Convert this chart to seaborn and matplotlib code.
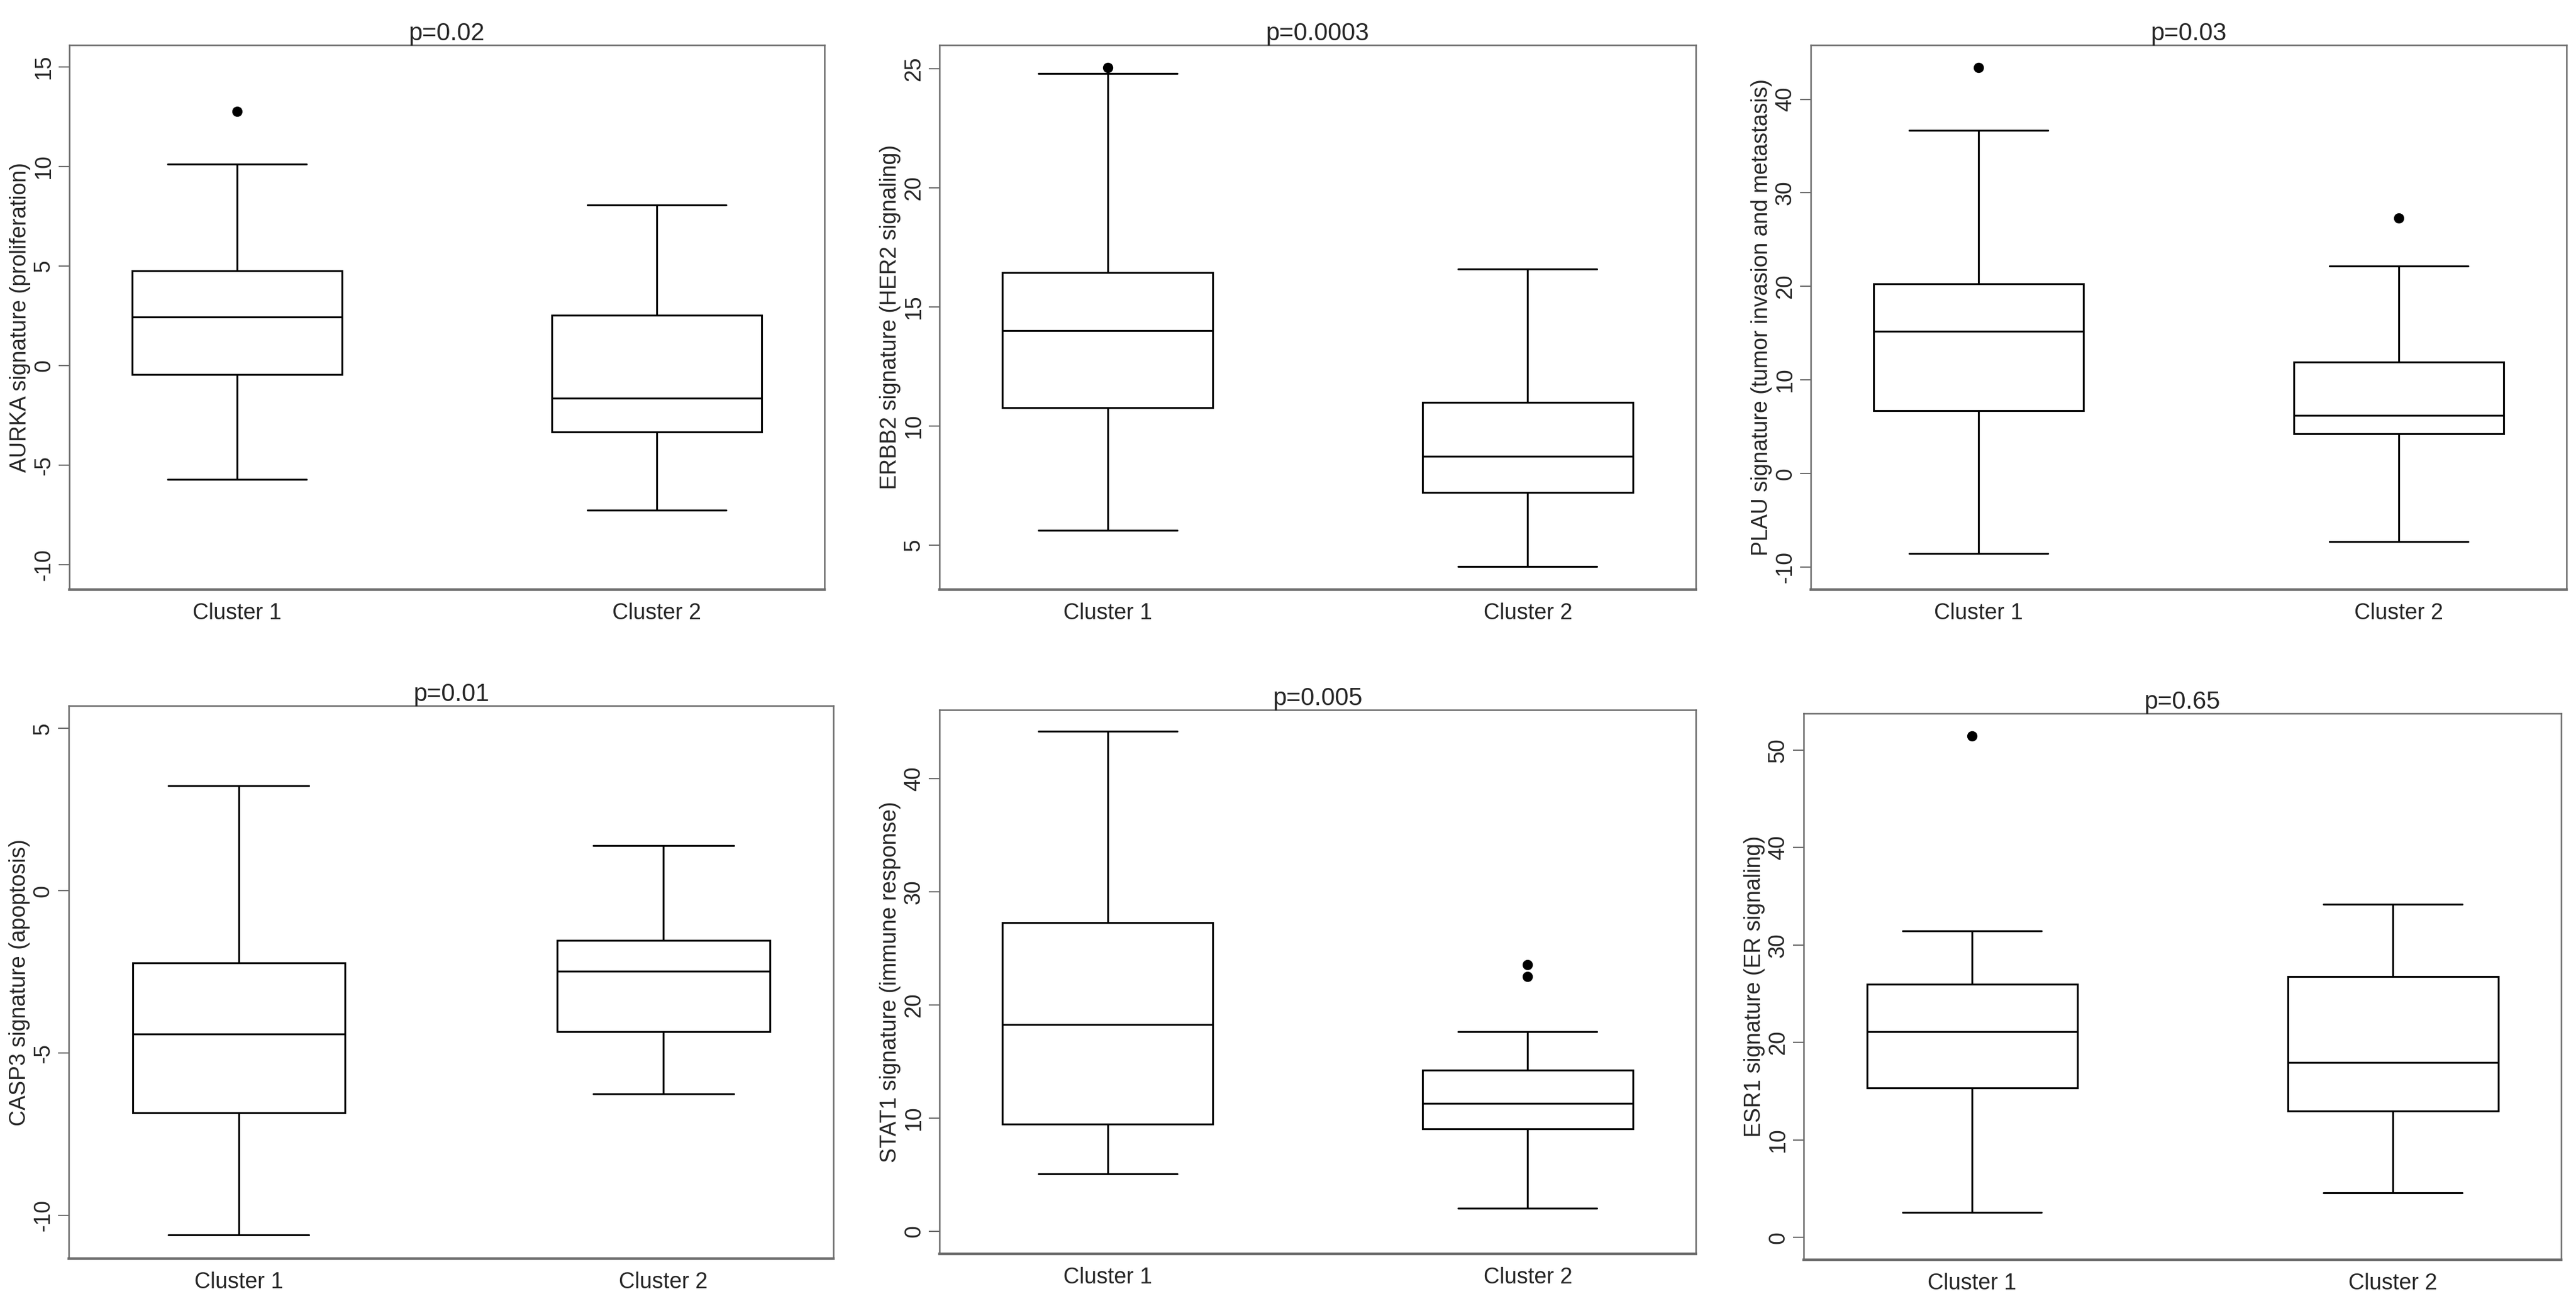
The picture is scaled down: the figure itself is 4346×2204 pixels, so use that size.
import pandas as pd
import matplotlib
matplotlib.use("Agg")
import matplotlib.pyplot as plt
import seaborn as sns

clusters = ["Cluster 1", "Cluster 2"]

titles = ["p=0.02", "p=0.0003", "p=0.03", "p=0.01", "p=0.005", "p=0.65"]
ylabels = [
    "AURKA signature (proliferation)",
    "ERBB2 signature (HER2 signaling)",
    "PLAU signature (tumor invasion and metastasis)",
    "CASP3 signature (apoptosis)",
    "STAT1 signature (immune response)",
    "ESR1 signature (ER signaling)",
]

# box summaries: lower whisker, Q1, median, Q3, upper whisker
aurka_c1 = [-5.7, -0.44, 2.44, 4.76, 10.13]
aurka_c2 = [-7.25, -3.33, -1.63, 2.54, 8.06]
erbb2_c1 = [5.63, 10.78, 14.0, 16.45, 24.8]
erbb2_c2 = [4.09, 7.21, 8.73, 11.0, 16.6]
plau_c1 = [-8.53, 6.7, 15.24, 20.3, 36.67]
plau_c2 = [-7.24, 4.23, 6.2, 11.9, 22.2]
casp3_c1 = [-10.6, -6.84, -4.42, -2.22, 3.23]
casp3_c2 = [-6.26, -4.34, -2.47, -1.53, 1.4]
stat1_c1 = [5.07, 9.5, 18.3, 27.3, 44.2]
stat1_c2 = [2.02, 9.04, 11.32, 14.26, 17.65]
esr1_c1 = [2.56, 15.32, 21.12, 25.94, 31.44]
esr1_c2 = [4.56, 12.97, 17.92, 26.75, 34.2]

# outlying points
aurka_out_c1, aurka_out_c2 = [12.78], []
erbb2_out_c1, erbb2_out_c2 = [25.05], []
plau_out_c1, plau_out_c2 = [43.4], [27.3]
casp3_out_c1, casp3_out_c2 = [], []
stat1_out_c1, stat1_out_c2 = [], [22.5, 23.57]
esr1_out_c1, esr1_out_c2 = [51.45], []

yticks = [
    [-10, -5, 0, 5, 10, 15],
    [5, 10, 15, 20, 25],
    [-10, 0, 10, 20, 30, 40],
    [-10, -5, 0, 5],
    [0, 10, 20, 30, 40],
    [0, 10, 20, 30, 40, 50],
]
ylims = [(-11.25, 16.1), (3.13, 26.0), (-12.4, 45.8),
         (-11.33, 5.7), (-2.0, 46.1), (-2.3, 53.75)]

boxes = [
    (aurka_c1, aurka_c2, aurka_out_c1, aurka_out_c2),
    (erbb2_c1, erbb2_c2, erbb2_out_c1, erbb2_out_c2),
    (plau_c1, plau_c2, plau_out_c1, plau_out_c2),
    (casp3_c1, casp3_c2, casp3_out_c1, casp3_out_c2),
    (stat1_c1, stat1_c2, stat1_out_c1, stat1_out_c2),
    (esr1_c1, esr1_c2, esr1_out_c1, esr1_out_c2),
]

# axes frames in pixels: left, right, top, bottom
W, H = 4346, 2204
frames = [
    (117, 1391, 76, 995), (1585, 2861, 76, 995), (3055, 4330, 76, 995),
    (116, 1406, 1191, 2124), (1585, 2861, 1198, 2116), (3043, 4321, 1204, 2126),
]

sns.set_style("white")
plt.rcParams["font.family"] = ["Liberation Sans", "DejaVu Sans"]
plt.rcParams["axes.unicode_minus"] = False

fig = plt.figure(figsize=(W / 100, H / 100), dpi=100)
frame_col = "#6a6a6a"

for i, (c1, c2, o1, o2) in enumerate(boxes):
    l, r, t, b = frames[i]
    ax = fig.add_axes([l / W, 1 - b / H, (r - l) / W, (b - t) / H])

    df = pd.DataFrame({"cluster": [clusters[0]] * len(c1) + [clusters[1]] * len(c2),
                       "value": c1 + c2})
    sns.boxplot(data=df, x="cluster", y="value", order=clusters, width=0.5,
                whis=(0, 100), color="white", linecolor="black", linewidth=2.3,
                saturation=1, capwidths=0.33, ax=ax)

    if o1 or o2:
        odf = pd.DataFrame({"cluster": [clusters[0]] * len(o1) + [clusters[1]] * len(o2),
                            "value": o1 + o2})
        sns.stripplot(data=odf, x="cluster", y="value", order=clusters, jitter=False,
                      color="black", size=12.5, linewidth=0, zorder=5, ax=ax)

    ax.set_xlim(-0.4, 1.4)
    ax.set_ylim(*ylims[i])
    ax.set_yticks(yticks[i])
    ax.set_yticklabels([str(v) for v in yticks[i]])
    ax.set_xlabel("")
    ax.set_ylabel(ylabels[i], fontsize=27, va="center")
    ax.yaxis.set_label_coords(-83 / (r - l), 0.5)
    ax.set_title(titles[i], fontsize=30, pad=6)

    ax.tick_params(axis="y", left=True, length=13, width=1.5, color=frame_col,
                   labelsize=27, pad=5, labelrotation=90)
    for lab in ax.get_yticklabels():
        lab.set_va("center")
    ax.tick_params(axis="x", bottom=False, length=0, pad=16, labelsize=27)

    for name, sp in ax.spines.items():
        sp.set_visible(True)
        sp.set_color(frame_col)
        sp.set_linewidth(3.2 if name == "bottom" else 1.8)

fig.savefig("out.png", dpi=100)
